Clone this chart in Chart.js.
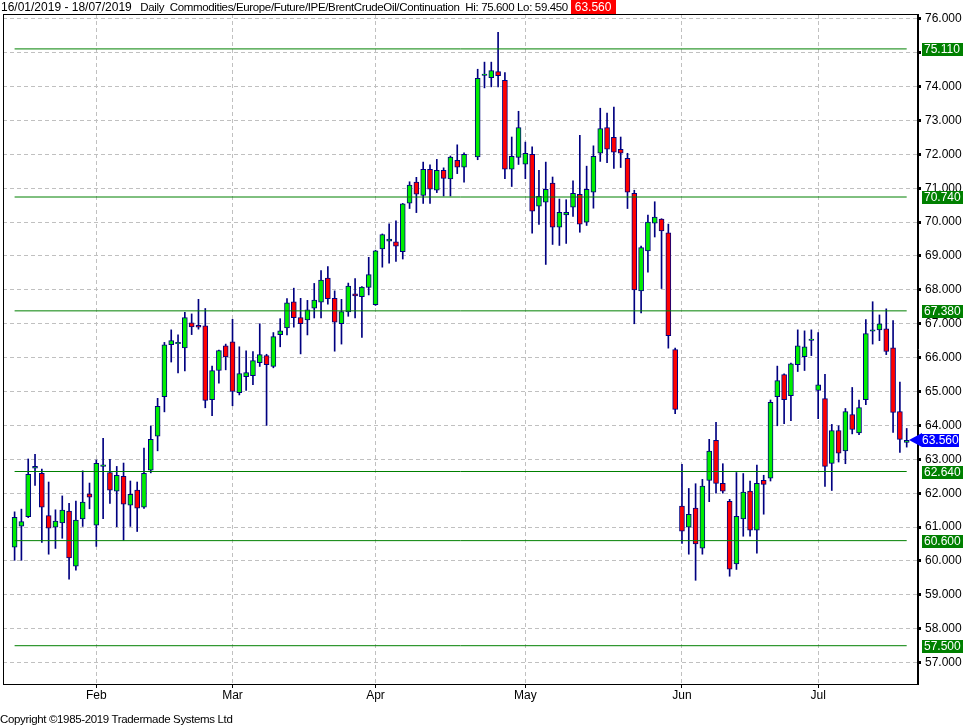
<!DOCTYPE html>
<html>
<head>
<meta charset="utf-8">
<script src="https://cdn.jsdelivr.net/npm/chart.js@4/dist/chart.umd.min.js"></script>
<style>
  body { margin: 0; background: #fff; }
  #wrap { position: relative; width: 972px; height: 727px; }
  #c { position: absolute; left: 0; top: 0; }
  .txt { position: absolute; font: 12px "Liberation Sans", Arial, sans-serif; color: #000; white-space: pre; line-height: 14px; }
  .tight { font-size: 11.5px; letter-spacing: -0.35px; }
  #hdr { left: 1px; top: 0; }
  #hdr .last { background: #ff0000; color: #fff; padding: 0 5px 0 4px; letter-spacing: 0; font-size: 12px; }
  #copy { left: 0; top: 712px; }
</style>
</head>
<body>
<div id="wrap">
  <canvas id="c" width="972" height="727"></canvas>
  <div id="hdr" class="txt">16/01/2019 - 18/07/2019<span class="tight">   Daily  Commodities/Europe/Future/IPE/BrentCrudeOil/Continuation  Hi: 75.600 Lo: 59.450 </span><span class="last">63.560</span></div>
  <div id="copy" class="txt tight">Copyright ©1985-2019 Tradermade Systems Ltd</div>
</div>
<script>
// one candle per weekday from 16/01/2019 (index 0) to 18/07/2019 (index 131), index 67 = Good Friday, no trade
const opens = [
  60.41, 61.03, 61.31, 62.74, 62.59, 61.34, 61.00, 61.12, 61.47, 59.85, 61.24, 61.98,
  61.06, 62.79, 62.61, 62.06, 62.50, 61.65, 62.09, 61.59, 62.68, 63.68, 64.85, 66.38,
  66.41, 66.29, 67.03, 66.95, 66.94, 64.76, 65.62, 66.35,
  66.47, 64.97, 65.44, 65.47, 65.85, 66.06, 65.74, 66.68, 66.88, 67.65, 67.18, 67.11,
  67.46, 67.64, 68.35, 67.75, 67.00, 67.35, 67.88, 67.80, 68.07,
  67.56, 69.21, 69.44, 69.42, 69.13, 70.56, 71.18, 70.79, 71.56, 70.94, 71.53, 71.27,
  71.82, 71.62, null, 71.92, 74.33, 74.26, 74.44, 74.18, 71.56, 71.91,
  71.71, 72.00, 70.47, 70.59, 71.15, 69.85, 70.21, 70.44, 70.82, 70.00, 70.88, 72.03,
  72.79, 72.50, 72.15, 71.88, 70.85, 67.97, 69.15, 69.97, 70.09, 69.68, 66.24,
  61.62, 61.00, 61.56, 60.38, 62.38, 63.56, 62.29, 61.76, 59.91, 61.24, 62.06, 60.91,
  62.38, 62.44, 64.85, 65.50, 64.88, 65.79, 66.03, 66.51,
  65.03, 64.79, 62.88, 63.85, 63.25, 64.32, 63.78, 64.76, 66.78, 66.82, 66.85, 66.29,
  64.41, 63.50
];
const highs = [
  61.45, 61.53, 63.01, 63.15, 62.71, 62.33, 61.51, 61.92, 61.70, 61.77, 62.66, 62.30,
  62.98, 63.62, 63.00, 62.79, 62.89, 62.36, 62.33, 63.33, 63.98, 64.80, 66.45, 66.82,
  66.67, 67.34, 67.29, 67.72, 67.45, 65.75, 66.22, 66.40,
  67.13, 66.32, 66.20, 66.18, 67.00, 66.10, 66.74, 67.15, 67.74, 68.05, 67.75, 67.69,
  68.19, 68.57, 68.69, 67.97, 67.72, 68.20, 68.33, 68.10, 68.96,
  69.17, 69.65, 69.95, 70.04, 70.55, 71.19, 71.32, 71.77, 71.69, 71.85, 71.60, 71.95,
  72.28, 72.04, null, 74.51, 74.72, 74.72, 75.60, 74.41, 72.51, 73.27,
  72.36, 72.22, 71.53, 71.77, 71.33, 70.68, 70.66, 71.22, 72.56, 71.65, 72.25, 73.36,
  73.22, 73.39, 72.51, 72.03, 70.94, 69.29, 70.21, 70.60, 70.10, 69.94, 66.28,
  62.85, 62.14, 62.28, 62.41, 63.59, 64.09, 62.87, 61.82, 62.61, 62.58, 62.36, 62.83,
  62.53, 64.75, 65.75, 65.52, 65.84, 66.82, 66.79, 66.82,
  66.74, 65.51, 64.03, 63.99, 64.50, 65.12, 64.75, 67.12, 67.65, 67.26, 67.44, 67.09,
  65.28, 63.91
];
const lows = [
  60.02, 60.02, 61.28, 62.23, 60.55, 60.20, 60.37, 60.67, 59.46, 59.73, 61.02, 61.54,
  60.43, 61.25, 61.70, 61.01, 60.61, 61.02, 60.87, 61.55, 62.60, 63.25, 64.40, 65.87,
  65.55, 65.61, 66.68, 66.84, 64.52, 64.29, 65.25, 65.64,
  64.58, 64.90, 65.03, 65.20, 65.74, 64.00, 65.70, 66.32, 66.67, 66.90, 66.11, 66.67,
  67.17, 67.17, 67.58, 66.19, 66.40, 67.22, 67.17, 66.60, 67.85,
  67.54, 68.67, 68.79, 68.84, 68.91, 70.40, 70.28, 70.55, 70.55, 70.87, 70.77, 70.77,
  71.43, 71.18, null, 71.84, 73.96, 73.99, 73.99, 71.28, 71.05, 71.70,
  71.28, 69.67, 69.93, 68.75, 69.34, 69.31, 69.37, 70.17, 69.70, 69.90, 70.41, 71.79,
  71.75, 71.58, 71.61, 70.40, 67.00, 67.32, 68.52, 69.56, 68.04, 66.28, 64.35,
  60.52, 60.20, 59.43, 60.20, 61.75, 62.00, 62.00, 59.55, 59.75, 60.73, 60.73, 60.23,
  61.38, 62.36, 63.99, 64.05, 64.14, 65.59, 65.62, 66.06,
  64.20, 62.20, 62.08, 62.92, 62.87, 63.75, 63.73, 64.61, 66.40, 66.50, 66.09, 63.79,
  63.20, 63.36
];
const closes = [
  61.29, 61.16, 62.56, 62.79, 61.59, 60.97, 61.18, 61.50, 60.09, 61.21, 61.74, 61.88,
  62.88, 62.84, 62.09, 62.53, 61.68, 61.97, 61.56, 62.59, 63.59, 64.56, 66.38, 66.50,
  66.45, 67.18, 66.91, 66.90, 64.74, 65.62, 66.21, 66.02,
  65.00, 65.53, 65.56, 65.91, 66.09, 65.79, 66.62, 66.79, 67.62, 67.18, 67.00, 67.41,
  67.70, 68.29, 67.74, 67.05, 67.36, 68.11, 67.82, 68.08, 68.45,
  69.15, 69.63, 69.50, 69.29, 70.54, 71.09, 70.82, 71.56, 70.97, 71.53, 71.29, 71.92,
  71.62, 72.00, null, 74.24, 74.37, 74.47, 74.32, 71.56, 71.94, 72.79,
  72.03, 70.32, 70.76, 70.97, 69.85, 70.29, 70.29, 70.85, 69.94, 70.97, 71.94, 72.76,
  72.15, 72.06, 72.03, 70.88, 68.00, 69.25, 70.00, 70.15, 69.74, 66.65, 64.47,
  60.88, 61.38, 60.50, 62.21, 63.24, 62.29, 62.06, 59.76, 61.32, 62.03, 60.91, 62.29,
  62.26, 64.68, 65.32, 64.76, 65.82, 66.35, 66.32, 66.55,
  65.20, 62.79, 63.85, 63.18, 64.41, 63.88, 64.53, 66.71, 66.82, 67.00, 66.18, 64.38,
  63.59, 63.56
];

// month tick labels and the candle index of each month's first weekday
const monthLabels = ["Feb", "Mar", "Apr", "May", "Jun", "Jul"];
const monthStarts = [12, 32, 53, 75, 98, 118];

// horizontal support / resistance levels drawn on the chart
const levels = [75.110, 70.740, 67.380, 62.640, 60.600, 57.500];
const lastPrice = 63.560;

const yTicks = [];
for (let v = 57; v <= 76; v++) yTicks.push(v);

const NAVY = "#000080";
const UP = "#00ee00";
const DOWN = "#ff0000";

const wickData = [];
const bodyData = [];
const bodyColors = [];
for (let i = 0; i < opens.length; i++) {
  if (opens[i] === null) continue;
  wickData.push({ x: i, y: [lows[i], highs[i]] });
  bodyData.push({ x: i, y: [opens[i], closes[i]] });
  bodyColors.push(closes[i] >= opens[i] ? UP : DOWN);
}

const levelSets = levels.map(v => ({
  type: "line",
  data: [{ x: 0, y: v }, { x: opens.length - 1, y: v }],
  borderColor: "#008000",
  borderWidth: 1,
  pointRadius: 0,
  order: -1
}));

// green / blue value boxes on the right axis
const axisBoxes = {
  id: "axisBoxes",
  afterDraw(chart) {
    const ctx = chart.ctx;
    const y = chart.scales.y;
    const area = chart.chartArea;
    ctx.save();
    // frame
    ctx.strokeStyle = "#000";
    ctx.lineWidth = 1;
    ctx.strokeRect(area.left + 0.5, area.top + 0.5, area.right - area.left - 1, area.bottom - area.top);
    ctx.font = '12px "Liberation Sans", Arial, sans-serif';
    ctx.textBaseline = "middle";
    ctx.textAlign = "left";
    levels.forEach(v => {
      const py = Math.round(y.getPixelForValue(v));
      ctx.fillStyle = "#008000";
      ctx.fillRect(area.right + 4, py - 6, 41, 13);
      ctx.fillStyle = "#fff";
      ctx.fillText(v.toFixed(3), area.right + 6, py + 1);
    });
    const py = Math.round(y.getPixelForValue(lastPrice));
    ctx.fillStyle = "#0000ff";
    ctx.beginPath();
    ctx.moveTo(area.right - 9, py);
    ctx.lineTo(area.right + 4, py - 7);
    ctx.lineTo(area.right + 4, py + 7);
    ctx.closePath();
    ctx.fill();
    ctx.fillRect(area.right + 4, py - 6, 37, 13);
    ctx.fillStyle = "#fff";
    ctx.fillText(lastPrice.toFixed(3), area.right + 4, py + 1);
    ctx.restore();
  }
};

Chart.defaults.font.family = '"Liberation Sans", Arial, sans-serif';
Chart.defaults.font.size = 12;
Chart.defaults.color = "#000";

const ctx = document.getElementById("c").getContext("2d");
new Chart(ctx, {
  type: "bar",
  data: {
    datasets: [
      ...levelSets,
      {
        data: bodyData,
        backgroundColor: bodyColors,
        borderColor: NAVY,
        borderWidth: 1,
        borderSkipped: false,
        barThickness: 5,
        grouped: false,
        order: 0
      },
      {
        data: wickData,
        backgroundColor: NAVY,
        borderWidth: 0,
        barThickness: 1,
        grouped: false,
        order: 1
      }
    ]
  },
  options: {
    responsive: false,
    animation: false,
    layout: { padding: { left: 3, top: 14, right: 0, bottom: 0 } },
    plugins: { legend: { display: false }, tooltip: { enabled: false } },
    scales: {
      x: {
        type: "linear",
        offset: false,
        min: -1.703,
        max: 132.66,
        afterBuildTicks: scale => { scale.ticks = monthStarts.map(v => ({ value: v })); },
        afterFit: scale => { scale.height = 43; },
        ticks: {
          autoSkip: false,
          maxRotation: 0,
          padding: 0,
          callback: v => monthLabels[monthStarts.indexOf(v)]
        },
        grid: { color: "#c0c0c0", tickColor: "#000", tickLength: 4, offset: false },
        border: { display: true, color: "#000", width: 1, dash: [4, 3] }
      },
      y: {
        type: "linear",
        position: "right",
        min: 56.37,
        max: 76.14,
        afterBuildTicks: scale => { scale.ticks = yTicks.map(v => ({ value: v })); },
        afterFit: scale => { scale.width = 54; },
        ticks: { padding: 4, callback: v => v.toFixed(3) },
        grid: { color: "#c0c0c0", tickColor: "#000", tickLength: 3, tickWidth: 3 },
        border: { display: true, color: "#000", width: 1, dash: [4, 3] }
      }
    }
  },
  plugins: [axisBoxes]
});
</script>
</body>
</html>
